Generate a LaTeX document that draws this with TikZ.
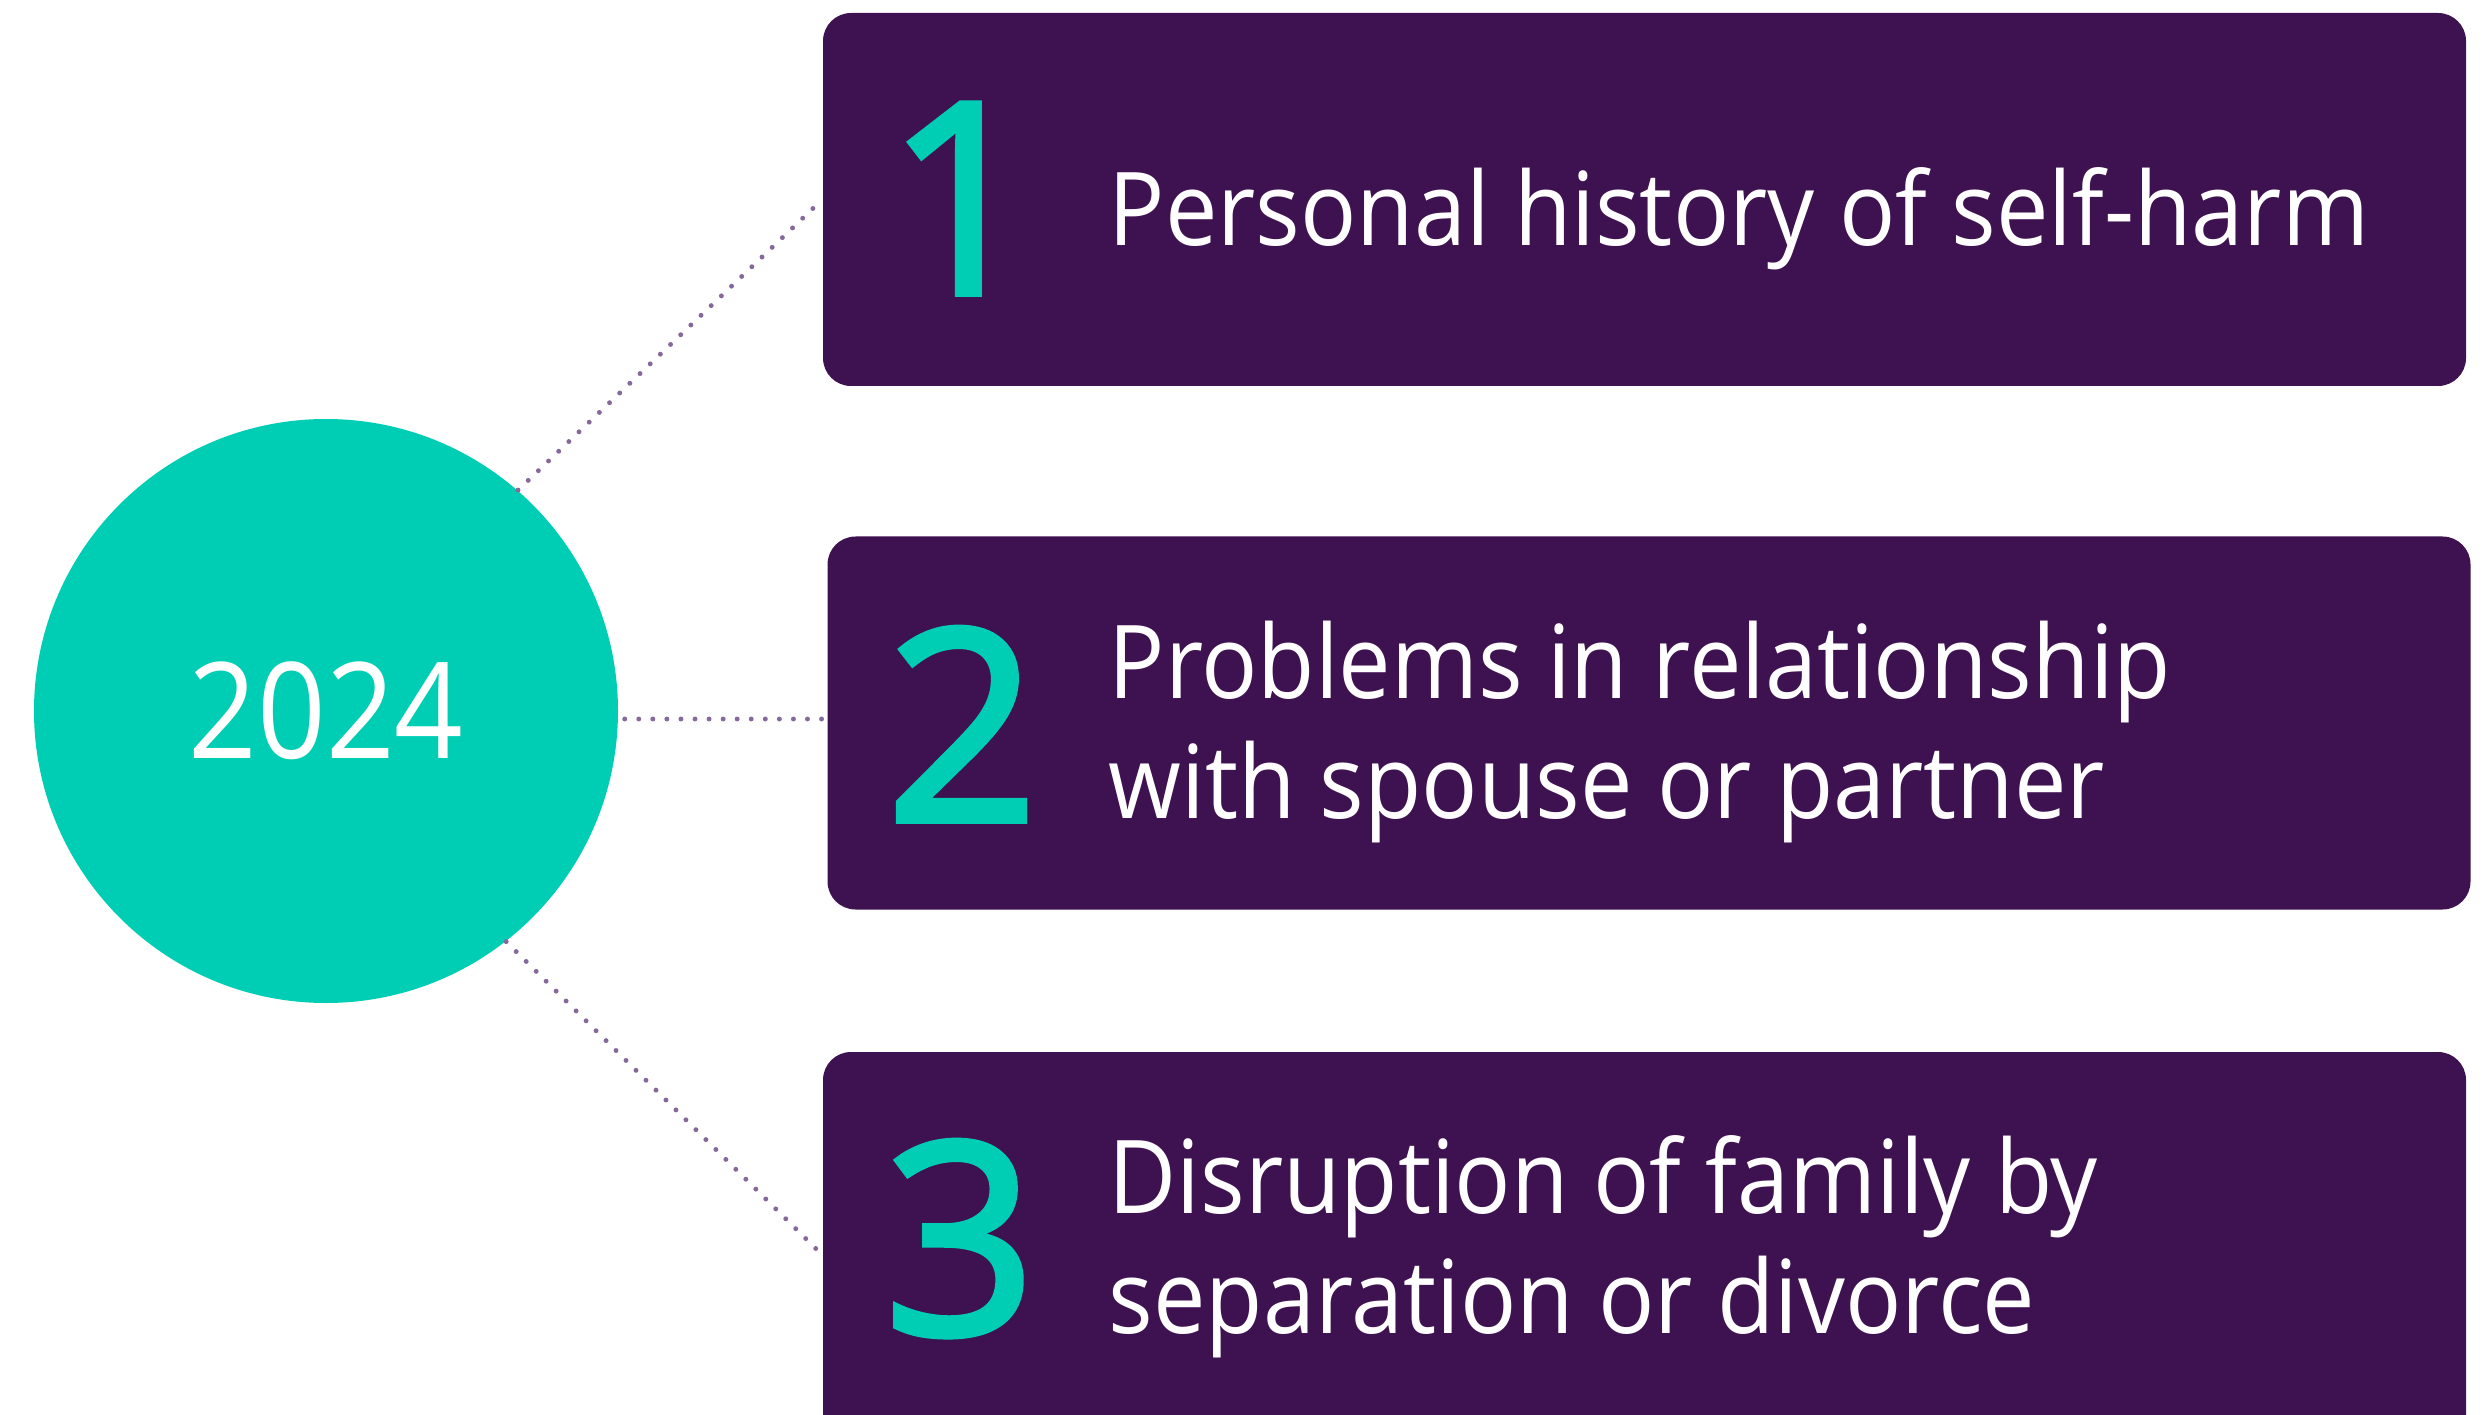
\documentclass[tikz,border=0pt]{standalone}
\usepackage{fontspec}
\setmainfont{Open Sans}[FakeStretch=0.918]
\newfontfamily\numfont{Open Sans}[FakeBold=2.2]
\newfontfamily\yearfont{Open Sans}[FakeStretch=0.9]
\definecolor{boxpurple}{HTML}{3E1150}
\definecolor{tealc}{HTML}{00CEB4}
\definecolor{dotc}{HTML}{85699A}
\tikzset{
  itembox/.style={fill=boxpurple, draw=none, rounded corners=0.28cm, minimum width=16.43cm, minimum height=3.73cm, inner sep=0pt},
  bignum/.style={text=tealc, font=\numfont\fontsize{76}{80}\selectfont, anchor=base west, inner sep=0pt},
  itemtext/.style={text=white, font=\fontsize{29}{34.1}\selectfont, anchor=base west, inner sep=0pt, align=left},
  dotline/.style={dotc, line width=1.4pt, line cap=round, dash pattern=on 0pt off 4pt},
  yearcircle/.style={circle, fill=tealc, draw=none, minimum size=5.84cm, inner sep=0pt, text=white, font=\yearfont\fontsize{38}{40}\selectfont}
}
\begin{document}
\begin{tikzpicture}
\useasboundingbox (0,0) rectangle (24.91,-14.15);
\node[yearcircle] (c) at (3.26,-7.11) {2024};
\node[itembox] (b1) at (16.445,-1.995) {};
\node[itembox] (b2) at (16.49,-7.23) {};
\node[itembox, minimum height=4.06cm] (b3) at (16.445,-12.55) {};
\node[bignum] (n1) at (8.85,-2.94) {1};
\node[bignum] (n2) at (8.85,-8.21) {2};
\node[bignum] (n3) at (8.83,-13.34) {3};
\node[itemtext] (t1) at (11.08,-2.46) {Personal history of self-harm};
\node[itemtext] (t2) at (11.08,-8.18) {Problems in relationship\\with spouse or partner};
\node[itemtext] (t3) at (11.08,-13.33) {Disruption of family by\\separation or divorce};
\draw[dotline] (c.49) -- (b1.west);
\draw[dotline] (c.east) ++(0.06,-0.08) coordinate (c2) -- (c2 -| b2.west);
\draw[dotline] (c.-52) -- (b3.west);
\end{tikzpicture}
\end{document}
